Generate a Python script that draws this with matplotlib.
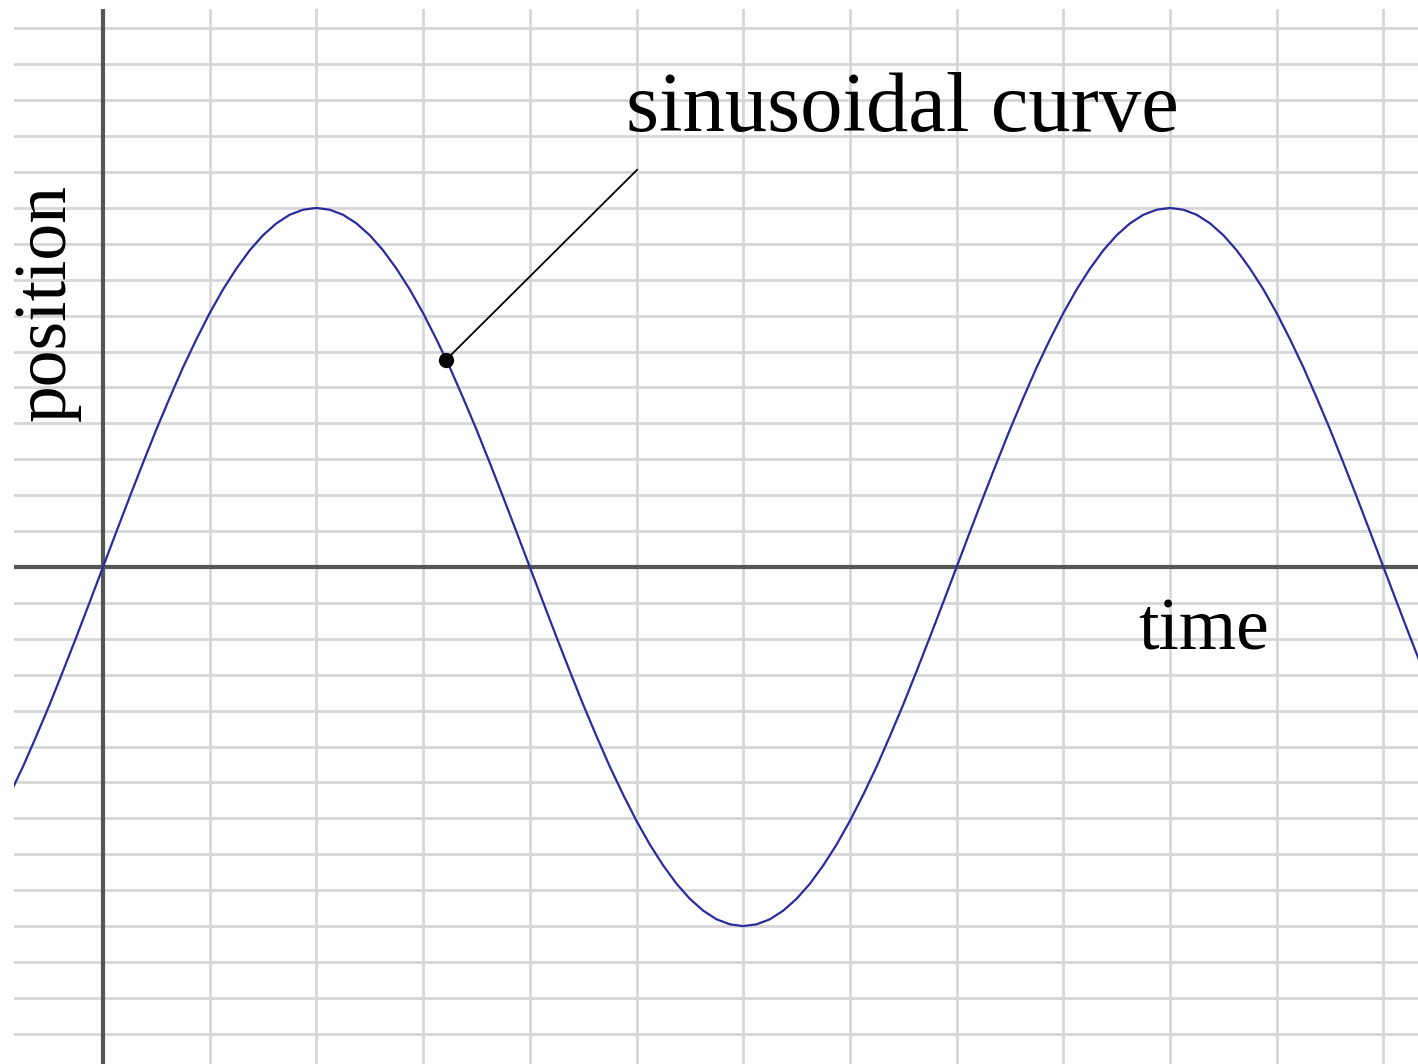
import numpy as np
import matplotlib
matplotlib.use("Agg")
import matplotlib.pyplot as plt

# Curve samples (x in vertical-grid units, y in horizontal-grid units)
time_start, time_step = -1.0, 0.125
position_values = [
    -7.07, -6.34, -5.56, -4.71, -3.83, -2.90, -1.95, -0.98,
    0.00, 0.98, 1.95, 2.90, 3.83, 4.71, 5.56, 6.34, 7.07, 7.73, 8.31, 8.82, 9.24, 9.57, 9.81, 9.95,
    10.00, 9.95, 9.81, 9.57, 9.24, 8.82, 8.31, 7.73, 7.07, 6.34, 5.56, 4.71, 3.83, 2.90, 1.95, 0.98,
    0.00, -0.98, -1.95, -2.90, -3.83, -4.71, -5.56, -6.34, -7.07, -7.73, -8.31, -8.82, -9.24, -9.57, -9.81, -9.95,
    -10.00, -9.95, -9.81, -9.57, -9.24, -8.82, -8.31, -7.73, -7.07, -6.34, -5.56, -4.71, -3.83, -2.90, -1.95, -0.98,
    0.00, 0.98, 1.95, 2.90, 3.83, 4.71, 5.56, 6.34, 7.07, 7.73, 8.31, 8.82, 9.24, 9.57, 9.81, 9.95,
    10.00, 9.95, 9.81, 9.57, 9.24, 8.82, 8.31, 7.73, 7.07, 6.34, 5.56, 4.71, 3.83, 2.90, 1.95, 0.98,
    0.00, -0.98, -1.95, -2.90, -3.83,
]
time_values = time_start + time_step * np.arange(len(position_values))

marker_point = (3.215, 5.77)
label_text = "sinusoidal curve"
x_label = "time"
y_label = "position"

fig = plt.figure(figsize=(14.18, 10.64), dpi=100)
ax = fig.add_axes([14 / 1418, 0.0, 1404 / 1418, (1064 - 9) / 1064])
ax.set_xlim(-0.834, 12.324)
ax.set_ylim(-13.84, 15.54)
for s in ax.spines.values():
    s.set_visible(False)
ax.set_xticks([])
ax.set_yticks([])

grid_color = "#d6d6d6"
for gx in range(1, 13):
    ax.axvline(gx, color=grid_color, lw=2.0, zorder=1)
for gy in range(-13, 16):
    if gy != 0:
        ax.axhline(gy, color=grid_color, lw=2.0, zorder=1)

ax.axhline(0, color="#555555", lw=3.0, zorder=2)
ax.axvline(0, color="#555555", lw=3.0, zorder=2)

ax.plot(time_values, position_values, color="#2b2b9e", lw=1.6, zorder=3)

font = dict(family=["Liberation Serif", "DejaVu Serif"], color="black")
ax.plot([marker_point[0], 5.005], [marker_point[1], 11.06], color="black", lw=1.3, zorder=4)
ax.plot([marker_point[0]], [marker_point[1]], "o", color="black", ms=10, zorder=5)

ax.text(4.90, 12.15, label_text, fontsize=61, ha="left", va="baseline", zorder=6, **font)
ax.text(9.70, -2.30, x_label, fontsize=53, ha="left", va="baseline", zorder=6, **font)
ax.text(-0.52, 7.38, y_label, fontsize=53, rotation=90, ha="center", va="center", zorder=6, **font)

fig.savefig("out.png", dpi=100, facecolor="white")
